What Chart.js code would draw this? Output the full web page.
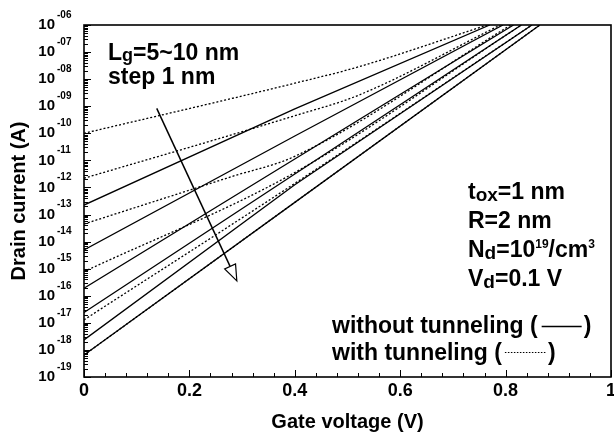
<!DOCTYPE html>
<html>
<head>
<meta charset="utf-8">
<script src="https://cdn.jsdelivr.net/npm/chart.js@4.4.1/dist/chart.umd.min.js"></script>
<style>
  html, body { margin: 0; padding: 0; background: #fff; }
</style>
</head>
<body>
<canvas id="chart" width="614" height="435"></canvas>
<script>
/* ── data: gate length family, each curve as gate voltage (V) + log10 of drain current (A) ── */
const gateLengths = [5, 6, 7, 8, 9, 10];

// without tunneling (solid)
const solidV   = [[0, 0.4, 0.77], [0, 0.4, 0.795], [0, 0.4, 0.815], [0, 0.4, 0.83], [0, 0.4, 0.85], [0, 0.4, 0.865]];
const solidExp = [[-12.65, -9.1, -6], [-14.31, -10.1, -6], [-15.72, -10.95, -6], [-16.62, -11.5, -6], [-17.63, -11.9, -6], [-18.19, -12.55, -6]];

// with tunneling (dotted)
const dottedV   = [[0, 0.4, 0.52, 0.765], [0, 0.4, 0.52, 0.79], [0, 0.28, 0.4, 0.81], [0, 0.4, 0.83], [0, 0.4, 0.85], [0, 0.4, 0.865]];
const dottedExp = [[-10.0, -8.15, -7.55, -6], [-11.66, -9.35, -8.6, -6], [-13.35, -11.6, -10.85, -6], [-15.11, -11.45, -6], [-16.89, -11.85, -6], [-18.19, -12.55, -6]];

const yTickExps   = [-6, -7, -8, -9, -10, -11, -12, -13, -14, -15, -16, -17, -18, -19];
const yTickLabels = ['-06', '-07', '-08', '-09', '-10', '-11', '-12', '-13', '-14', '-15', '-16', '-17', '-18', '-19'];
const xTickLabels = ['0', '0.2', '0.4', '0.6', '0.8', '1'];

// arrow "Lg increases": start / tip in data coords (V, log10 I)
const arrowFrom = [0.138, -9.08];
const arrowTo   = [0.29, -15.45];

const FONT = 'Arial, "Liberation Sans", sans-serif';

function toPoints(vs, exps){ return vs.map((v, i) => ({ x: v, y: Math.pow(10, exps[i]) })); }

const datasets = [];
gateLengths.forEach((lg, i) => {
  datasets.push({
    label: `Lg=${lg} nm without tunneling`,
    data: toPoints(solidV[i], solidExp[i]),
    borderColor: '#000', borderWidth: 1.3, pointRadius: 0, tension: 0, fill: false
  });
  datasets.push({
    label: `Lg=${lg} nm with tunneling`,
    data: toPoints(dottedV[i], dottedExp[i]),
    borderColor: '#000', borderWidth: 1.3, borderDash: [2, 2], pointRadius: 0,
    cubicInterpolationMode: 'monotone', fill: false
  });
});

/* ── helpers for rich text (sub / superscripts) ── */
function richText(ctx, x, y, parts){
  parts.forEach(p => {
    ctx.font = `bold ${p.size}px ${FONT}`;
    ctx.fillText(p.t, x, y + (p.dy || 0));
    x += ctx.measureText(p.t).width;
  });
  return x;
}

const framePlugin = {
  id: 'frame',
  afterDraw(chart){
    const { ctx, chartArea: a, scales: { x, y } } = chart;
    ctx.save();
    ctx.strokeStyle = '#000';
    ctx.fillStyle = '#000';

    // box
    ctx.lineWidth = 1.6;
    ctx.strokeRect(a.left, a.top, a.right - a.left, a.bottom - a.top);

    // y ticks (inward, left side) incl. minor decade ticks
    ctx.lineWidth = 1;
    ctx.beginPath();
    yTickExps.forEach(e => {
      const py = Math.round(y.getPixelForValue(Math.pow(10, e))) + 0.5;
      ctx.moveTo(a.left, py); ctx.lineTo(a.left + 7, py);
    });
    for (let e = -19; e < -6; e++){
      for (let m = 2; m <= 9; m++){
        const py = Math.round(y.getPixelForValue(m * Math.pow(10, e))) + 0.5;
        ctx.moveTo(a.left, py); ctx.lineTo(a.left + 4, py);
      }
    }
    // x ticks (inward, bottom)
    for (let k = 0; k <= 25; k++){
      const px = Math.round(x.getPixelForValue(k * 0.04)) + 0.5;
      const len = k % 5 === 0 ? 7 : 4;
      ctx.moveTo(px, a.bottom); ctx.lineTo(px, a.bottom - len);
    }
    ctx.stroke();

    // y tick labels 10^-nn
    ctx.textBaseline = 'middle';
    yTickExps.forEach((e, i) => {
      const py = y.getPixelForValue(Math.pow(10, e));
      ctx.textAlign = 'right';
      ctx.font = `bold 15px ${FONT}`;
      ctx.fillText('10', 55, py);
      ctx.textAlign = 'left';
      ctx.font = `bold 10px ${FONT}`;
      ctx.fillText(yTickLabels[i], 57, py - 10);
    });

    // annotations
    ctx.textAlign = 'left';
    ctx.textBaseline = 'alphabetic';
    richText(ctx, 108, 59.5, [{ t: 'L', size: 23 }, { t: 'g', size: 18, dy: 1 }, { t: '=5~10 nm', size: 23 }]);
    richText(ctx, 108, 83.5, [{ t: 'step 1 nm', size: 23 }]);

    richText(ctx, 468, 199, [{ t: 't', size: 23 }, { t: 'ox', size: 19, dy: 2 }, { t: '=1 nm', size: 23 }]);
    richText(ctx, 468, 228, [{ t: 'R=2 nm', size: 23 }]);
    richText(ctx, 468, 257, [{ t: 'N', size: 23 }, { t: 'd', size: 19, dy: 2 }, { t: '=10', size: 23 }, { t: '19', size: 12, dy: -9 }, { t: '/cm', size: 23 }, { t: '3', size: 12, dy: -9 }]);
    richText(ctx, 468, 286, [{ t: 'V', size: 23 }, { t: 'd', size: 19, dy: 2 }, { t: '=0.1 V', size: 23 }]);

    // legend
    let lx = richText(ctx, 332, 333, [{ t: 'without tunneling (', size: 23 }]);
    ctx.lineWidth = 1.3;
    ctx.beginPath(); ctx.moveTo(lx + 4, 326.5); ctx.lineTo(lx + 44, 326.5); ctx.stroke();
    richText(ctx, lx + 46, 333, [{ t: ')', size: 23 }]);
    lx = richText(ctx, 332, 360, [{ t: 'with tunneling (', size: 23 }]);
    ctx.lineWidth = 1;
    ctx.setLineDash([1.5, 1.5]);
    ctx.beginPath(); ctx.moveTo(lx + 3, 352.5); ctx.lineTo(lx + 44, 352.5); ctx.stroke();
    ctx.setLineDash([]);
    richText(ctx, lx + 46, 360, [{ t: ')', size: 23 }]);

    // arrow
    const x0 = x.getPixelForValue(arrowFrom[0]), y0 = y.getPixelForValue(Math.pow(10, arrowFrom[1]));
    const x1 = x.getPixelForValue(arrowTo[0]),   y1 = y.getPixelForValue(Math.pow(10, arrowTo[1]));
    const len = Math.hypot(x1 - x0, y1 - y0), ux = (x1 - x0) / len, uy = (y1 - y0) / len;
    const hl = 16, hw = 6;
    const bx = x1 - ux * hl, by = y1 - uy * hl;
    ctx.lineWidth = 1.5;
    ctx.beginPath(); ctx.moveTo(x0, y0); ctx.lineTo(bx, by); ctx.stroke();
    ctx.beginPath();
    ctx.moveTo(x1, y1);
    ctx.lineTo(bx - uy * hw, by + ux * hw);
    ctx.lineTo(bx + uy * hw, by - ux * hw);
    ctx.closePath();
    ctx.fillStyle = '#fff'; ctx.fill();
    ctx.lineWidth = 1.2; ctx.stroke();

    ctx.restore();
  }
};

new Chart(document.getElementById('chart'), {
  type: 'line',
  data: { datasets },
  options: {
    responsive: false,
    devicePixelRatio: 1,
    animation: false,
    layout: { padding: { top: 25, right: 3, left: 0, bottom: 0 } },
    plugins: { legend: { display: false }, tooltip: { enabled: false } },
    scales: {
      x: {
        type: 'linear', min: 0, max: 1,
        afterBuildTicks: s => { s.ticks = xTickLabels.map(t => ({ value: Number(t) })); },
        ticks: {
          color: '#000', padding: 3, maxRotation: 0, autoSkip: false,
          font: { family: FONT, size: 18, weight: 'bold' },
          callback: (v, i) => xTickLabels[i]
        },
        grid: { display: false, drawTicks: false },
        border: { display: false },
        title: { display: true, text: 'Gate voltage (V)', color: '#000',
                 font: { family: FONT, size: 20, weight: 'bold' }, padding: { top: 0, bottom: 1 } },
        afterFit: s => { s.height = 58; s.paddingLeft = 0; s.paddingRight = 0; }
      },
      y: {
        type: 'logarithmic', min: 1e-19, max: 1e-6,
        afterBuildTicks: s => { s.ticks = yTickExps.map(e => ({ value: Math.pow(10, e) })); },
        ticks: { display: false },
        grid: { display: false, drawTicks: false },
        border: { display: false },
        title: { display: true, text: 'Drain current (A)', color: '#000',
                 font: { family: FONT, size: 20, weight: 'bold' }, padding: { top: 7 } },
        afterFit: s => { s.width = 84; s.paddingTop = 0; s.paddingBottom = 0; }
      }
    }
  },
  plugins: [framePlugin]
});
</script>
</body>
</html>
